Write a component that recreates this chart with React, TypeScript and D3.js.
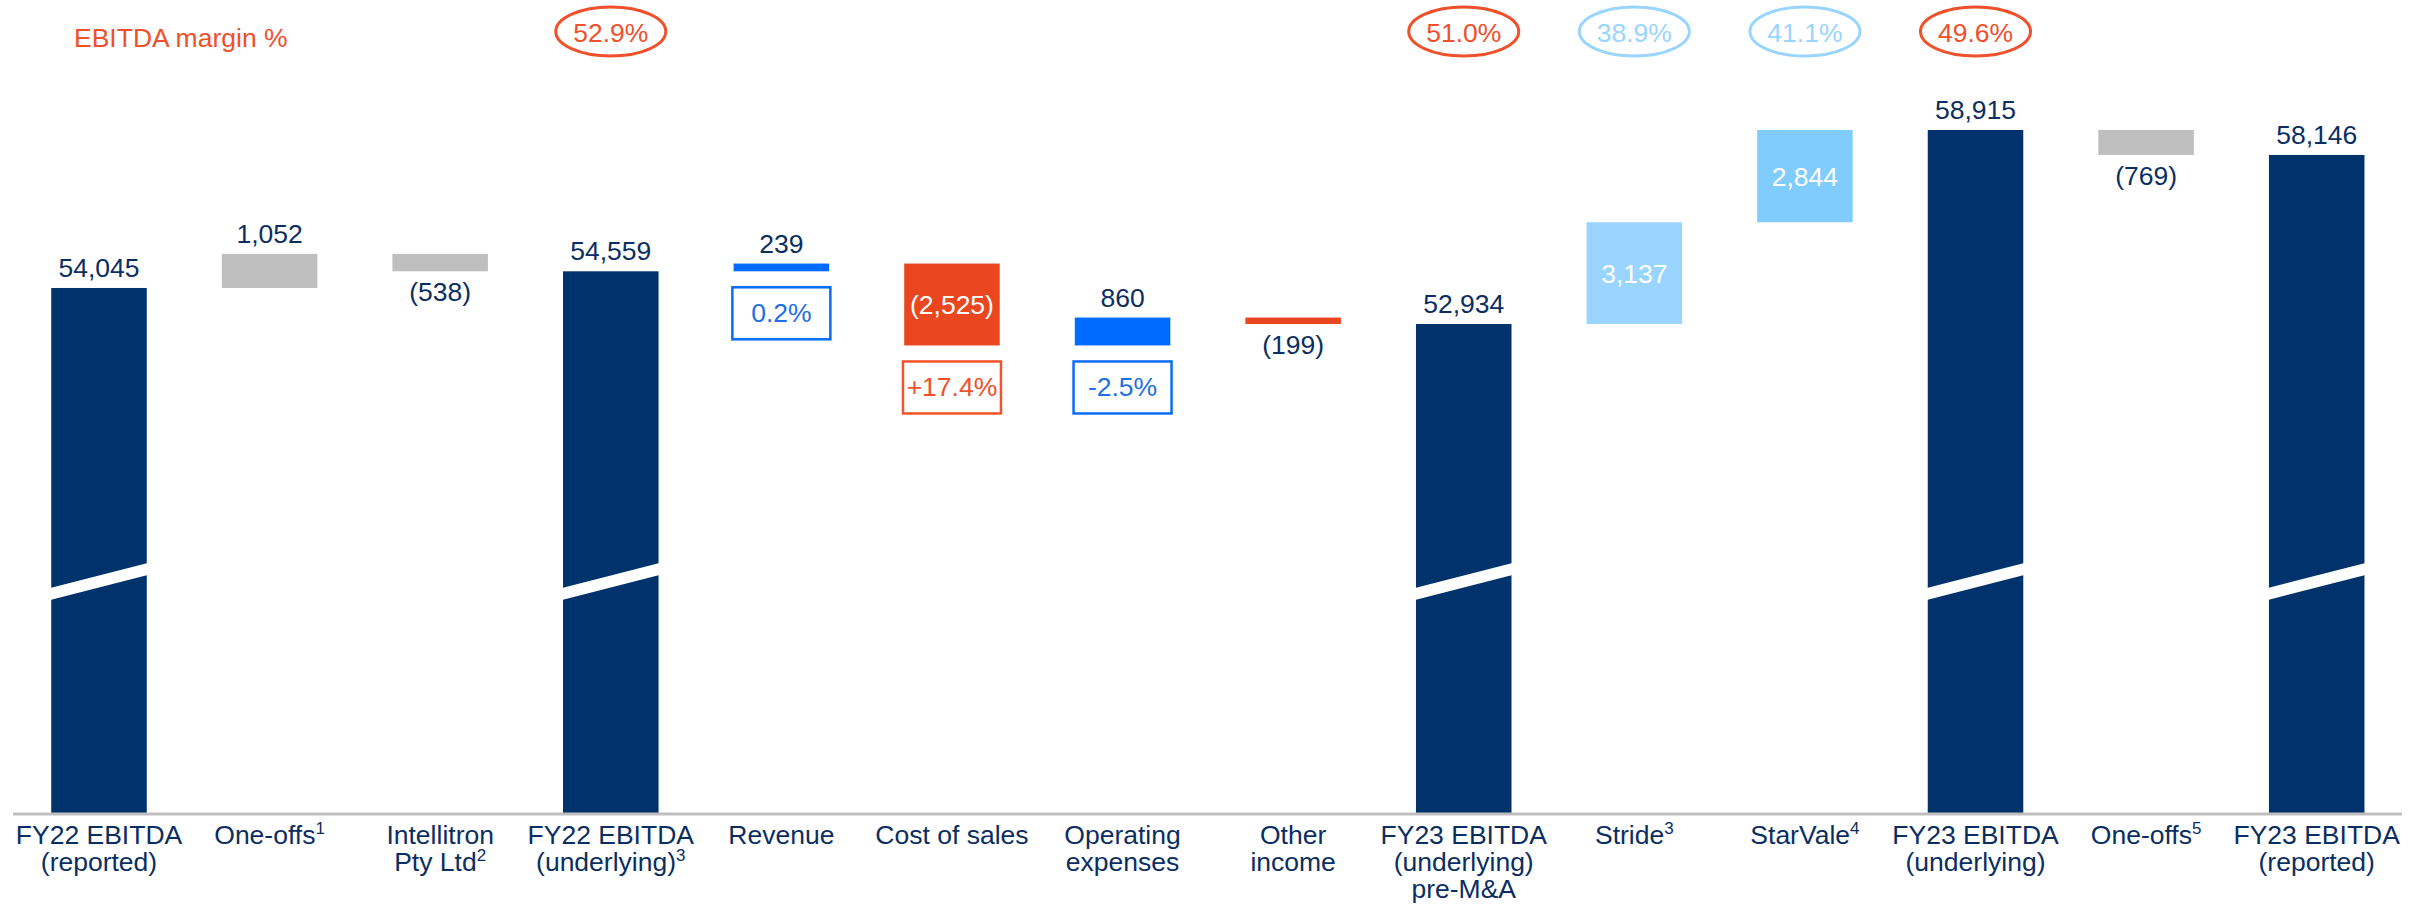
import React, { useRef, useEffect } from 'react';
import * as d3 from 'd3';

// Category labels, split into lines; footnote digit goes on the last line
const categoryLines: string[][] = [
  ['FY22 EBITDA', '(reported)'],
  ['One-offs'],
  ['Intellitron', 'Pty Ltd'],
  ['FY22 EBITDA', '(underlying)'],
  ['Revenue'],
  ['Cost of sales'],
  ['Operating', 'expenses'],
  ['Other', 'income'],
  ['FY23 EBITDA', '(underlying)', 'pre-M&A'],
  ['Stride'],
  ['StarVale'],
  ['FY23 EBITDA', '(underlying)'],
  ['One-offs'],
  ['FY23 EBITDA', '(reported)'],
];
const footnotes = ['', '1', '2', '3', '', '', '', '', '', '3', '4', '', '5', ''];
const barKinds = ['total', 'oneOff', 'oneOff', 'total', 'gain', 'loss', 'gain', 'loss', 'total', 'stride', 'starvale', 'total', 'oneOff', 'total'];
const values = [54045, 1052, -538, 54559, 239, -2525, 860, -199, 52934, 3137, 2844, 58915, -769, 58146];
const marginLabels = ['', '', '', '52.9%', '', '', '', '', '51.0%', '38.9%', '41.1%', '49.6%', '', ''];
const changeLabels = ['', '', '', '', '0.2%', '+17.4%', '-2.5%', '', '', '', '', '', '', ''];
const breakValue = 45000;

const FONT = "'Liberation Sans', Arial, sans-serif";
const FS = 26.5;

const barColor: Record<string, string> = {
  total: '#00336C',
  oneOff: '#BFBFBF',
  gain: '#006BFF',
  loss: '#EA4721',
  stride: '#99D5FF',
  starvale: '#80CCFF',
};
const RED_TEXT = '#F0502A';
const NAVY_TEXT = '#0B2E62';

const App: React.FC = () => {
  const svgRef = useRef<SVGSVGElement | null>(null);

  useEffect(() => {
    document.body.style.margin = '0';
    const svg = d3.select(svgRef.current);
    svg.selectAll('*').remove();

    const axisY = 813;

    const x = d3.scaleBand<number>()
      .domain(values.map((_, i) => i))
      .range([13.7, 2402])
      .paddingInner(0.44)
      .paddingOuter(0.22);

    const y = d3.scaleLinear().domain([37860, 58915]).range([axisY, 130]);

    // waterfall start / end per bar
    let running = 0;
    const bars = values.map((v, i) => {
      const kind = barKinds[i];
      let start: number, end: number;
      if (kind === 'total') {
        start = y.domain()[0];
        end = v;
        running = v;
      } else {
        start = running;
        end = running + v;
        running = end;
      }
      return { i, v, kind, start, end, hi: Math.max(start, end), lo: Math.min(start, end) };
    });

    const cx = (i: number) => x(i)! + x.bandwidth() / 2;
    const bw = x.bandwidth();

    // title
    svg.append('text')
      .attr('x', 74).attr('y', 47)
      .attr('font-family', FONT).attr('font-size', FS)
      .attr('fill', RED_TEXT)
      .text('EBITDA margin %');

    // bars
    svg.selectAll('.bar')
      .data(bars)
      .enter()
      .append('rect')
      .attr('x', d => x(d.i)!)
      .attr('y', d => y(d.hi))
      .attr('width', bw)
      .attr('height', d => y(d.lo) - y(d.hi))
      .attr('fill', d => barColor[d.kind]);

    // axis break on the totals
    const yb = y(breakValue);
    svg.selectAll('.brk')
      .data(bars.filter(d => d.kind === 'total'))
      .enter()
      .append('polygon')
      .attr('fill', '#ffffff')
      .attr('points', d => {
        const x0 = x(d.i)! - 1;
        const x1 = x(d.i)! + bw + 1;
        return [
          [x0, yb + 12.5 - 6], [x1, yb - 12.5 - 6],
          [x1, yb - 12.5 + 6], [x0, yb + 12.5 + 6],
        ].map(p => p.join(',')).join(' ');
      });

    // baseline
    svg.append('line')
      .attr('x1', 13).attr('x2', 2402)
      .attr('y1', axisY + 1).attr('y2', axisY + 1)
      .attr('stroke', '#BFBFBF').attr('stroke-width', 3);

    // value labels
    const fmt = d3.format(',');
    bars.forEach(d => {
      const txt = d.v < 0 ? `(${fmt(-d.v)})` : fmt(d.v);
      const inside = d.kind !== 'total' && Math.abs(d.v) > 2000;
      let ty: number;
      let fill = NAVY_TEXT;
      if (inside) {
        ty = (y(d.hi) + y(d.lo)) / 2 + 9.5;
        fill = '#ffffff';
      } else if (d.v < 0) {
        ty = y(d.lo) + 30;
      } else {
        ty = y(d.hi) - 11;
      }
      svg.append('text')
        .attr('x', cx(d.i)).attr('y', ty)
        .attr('text-anchor', 'middle')
        .attr('font-family', FONT).attr('font-size', FS)
        .attr('fill', fill)
        .text(txt);
    });

    // change % boxes under the operating bars
    bars.forEach(d => {
      const lbl = changeLabels[d.i];
      if (!lbl) return;
      const col = d.kind === 'loss' ? '#F5532B' : '#0A6CF5';
      const txtCol = d.kind === 'loss' ? RED_TEXT : '#1E6FE6';
      const top = y(d.lo) + 16;
      svg.append('rect')
        .attr('x', cx(d.i) - 49).attr('y', top)
        .attr('width', 98).attr('height', 52)
        .attr('fill', 'none').attr('stroke', col).attr('stroke-width', 2.5);
      svg.append('text')
        .attr('x', cx(d.i)).attr('y', top + 35)
        .attr('text-anchor', 'middle')
        .attr('font-family', FONT).attr('font-size', FS)
        .attr('fill', txtCol)
        .text(lbl);
    });

    // margin ellipses
    bars.forEach(d => {
      const lbl = marginLabels[d.i];
      if (!lbl) return;
      const col = d.kind === 'total' ? RED_TEXT : '#99D5FF';
      svg.append('ellipse')
        .attr('cx', cx(d.i)).attr('cy', 31.5)
        .attr('rx', 55).attr('ry', 24.5)
        .attr('fill', 'none').attr('stroke', col).attr('stroke-width', 3);
      svg.append('text')
        .attr('x', cx(d.i)).attr('y', 42)
        .attr('text-anchor', 'middle')
        .attr('font-family', FONT).attr('font-size', FS)
        .attr('fill', col)
        .text(lbl);
    });

    // category labels
    categoryLines.forEach((lines, i) => {
      lines.forEach((line, j) => {
        const t = svg.append('text')
          .attr('x', cx(i)).attr('y', 844 + j * 27)
          .attr('text-anchor', 'middle')
          .attr('font-family', FONT).attr('font-size', FS)
          .attr('fill', NAVY_TEXT);
        t.append('tspan').text(line);
        if (j === lines.length - 1 && footnotes[i]) {
          t.append('tspan')
            .attr('dy', -10)
            .attr('font-size', 17)
            .text(footnotes[i]);
        }
      });
    });
  }, []);

  return (
    <svg
      ref={svgRef}
      width={2418}
      height={906}
      style={{ position: 'absolute', left: 0, top: 0, display: 'block', background: '#fff' }}
    />
  );
};

export default App;
